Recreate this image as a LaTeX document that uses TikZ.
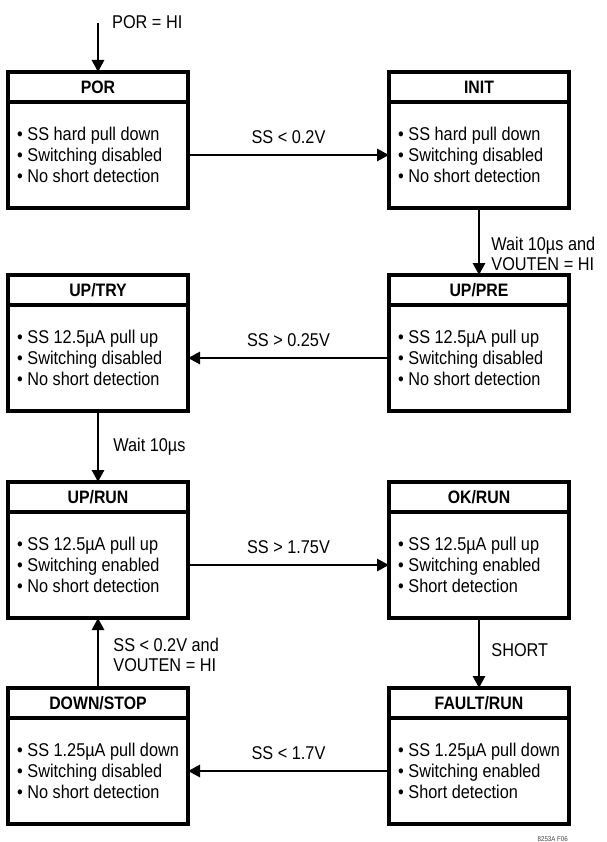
\documentclass[tikz,border=0pt]{standalone}
\usepackage{fontspec}
\setmainfont{Liberation Sans}[FakeStretch=0.88]
\usetikzlibrary{arrows.meta}
\tikzset{
  hdr/.style={draw,line width=3.2pt,outer sep=0pt,minimum width=180pt,minimum height=30pt,inner sep=0pt,
    font=\fontsize{18}{21}\selectfont\bfseries},
  bdy/.style={draw,line width=3.2pt,outer sep=0pt,minimum width=180pt,minimum height=106pt,inner sep=0pt},
  txt/.style={inner sep=0pt,align=left,font=\fontsize{18.5}{21}\selectfont},
  conn/.style={line width=2.8pt,-{Triangle[length=12pt,width=12pt]}},
  lbl/.style={font=\fontsize{18.5}{20}\selectfont,inner sep=0pt,align=left}
}
\newcommand\statebox[5]{%
  \node[hdr,anchor=north] (#1h) at (#2,#3) {#4};
  \node[bdy,anchor=north] (#1b) at (#1h.south) {};
  \node[txt,anchor=west] (#1t) at ([xshift=9pt]#1b.west) {#5};
}
\begin{document}
\begin{tikzpicture}[x=1pt,y=-1pt]
\useasboundingbox (0,0) rectangle (606,842);
\statebox{por}{98}{72}{POR}{• SS hard pull down\\• Switching disabled\\• No short detection}
\statebox{init}{479}{72}{INIT}{• SS hard pull down\\• Switching disabled\\• No short detection}
\statebox{uptry}{98}{275}{UP/TRY}{• SS 12.5µA pull up\\• Switching disabled\\• No short detection}
\statebox{uppre}{479}{275}{UP/PRE}{• SS 12.5µA pull up\\• Switching disabled\\• No short detection}
\statebox{uprun}{98}{482}{UP/RUN}{• SS 12.5µA pull up\\• Switching enabled\\• No short detection}
\statebox{okrun}{479}{482}{OK/RUN}{• SS 12.5µA pull up\\• Switching enabled\\• Short detection}
\statebox{down}{98}{688}{DOWN/STOP}{• SS 1.25µA pull down\\• Switching disabled\\• No short detection}
\statebox{fault}{479}{688}{FAULT/RUN}{• SS 1.25µA pull down\\• Switching enabled\\• Short detection}

\coordinate (start) at (98,23);
\draw[conn] (start) -- (porh.north);
\node[lbl,anchor=west] (porhi) at (112,22) {POR = HI};

\draw[conn] (porb.east) -- node[lbl,above=10pt] (l1) {SS < 0.2V} (initb.west);
\draw[conn] (initb.south) -- node[lbl,pos=0.69,right=11pt] (l2) {Wait 10µs and\\VOUTEN = HI} (uppreh.north);
\draw[conn] (uppreb.west) -- node[lbl,above=10pt] (l3) {SS > 0.25V} (uptryb.east);
\draw[conn] (uptryb.south) -- node[lbl,pos=0.51,right=14pt] (l4) {Wait 10µs} (uprunh.north);
\draw[conn] (uprunb.east) -- node[lbl,above=10pt] (l5) {SS > 1.75V} (okrunb.west);
\draw[conn] (okrunb.south) -- node[lbl,pos=0.46,right=11pt] (l6) {SHORT} (faulth.north);
\draw[conn] (faultb.west) -- node[lbl,above=10pt] (l7) {SS < 1.7V} (downb.east);
\draw[conn] (downh.north) -- node[lbl,pos=0.47,right=14pt] (l8) {SS < 0.2V and\\VOUTEN = HI} (uprunb.south);

\node[font=\fontsize{7}{7}\selectfont,text=black!75,inner sep=0pt,anchor=base east] (fig) at (568,841) {8253A F06};
\end{tikzpicture}
\end{document}
